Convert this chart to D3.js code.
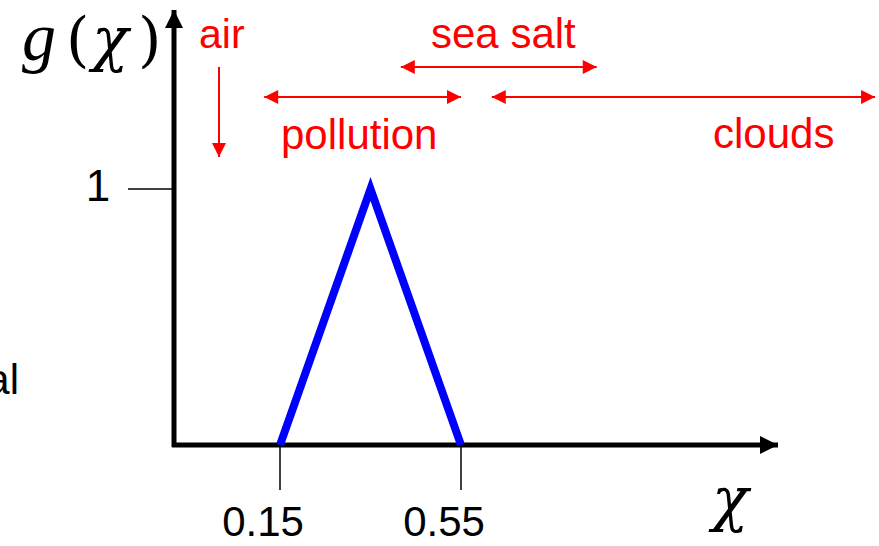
<!DOCTYPE html>
<html>
<head>
  <script src="https://d3js.org/d3.v7.min.js"></script>
  <style>
    body { margin: 0; background: #fff; }
    svg { display: block; }
  </style>
</head>
<body>
  <svg width="879" height="546"></svg>
<script>
  // membership function: triangle on chi
  var chiPoints = [0.15, 0.35, 0.55];
  var gValues = [0, 1, 0];
  var xTicks = [0.15, 0.55];
  var xTickLabels = ["0.15", "0.55"];
  var yTicks = [1];
  var yTickLabels = ["1"];

  // aerosol type ranges (in chi units) shown as red arrows
  var rangeNames = ["sea salt", "pollution", "clouds"];
  var rangeFrom = [0.417, 0.115, 0.618];
  var rangeTo = [0.85, 0.55, 1.465];

  var svg = d3.select("svg");
  var red = "#ff0000";
  var sans = "Liberation Sans, Arial, sans-serif";
  var serif = "DejaVu Serif, Liberation Serif, serif";

  var x = d3.scaleLinear().domain([0.15, 0.55]).range([280, 461]);
  var y = d3.scaleLinear().domain([0, 1]).range([445, 189]);

  var defs = svg.append("defs");
  function marker(id, color, w, h) {
    defs.append("marker").attr("id", id)
      .attr("viewBox", "0 0 10 10").attr("refX", 10).attr("refY", 5)
      .attr("markerUnits", "userSpaceOnUse")
      .attr("markerWidth", w).attr("markerHeight", h)
      .attr("orient", "auto-start-reverse")
      .append("path").attr("d", "M0,0L10,5L0,10Z").attr("fill", color);
  }
  marker("blk", "#000", 20, 18);
  marker("red", red, 16, 14);

  // axes
  svg.append("line").attr("x1", 174).attr("y1", 447).attr("x2", 174).attr("y2", 10)
    .attr("stroke", "#000").attr("stroke-width", 5).attr("marker-end", "url(#blk)");
  svg.append("line").attr("x1", 172).attr("y1", 445).attr("x2", 778).attr("y2", 445)
    .attr("stroke", "#000").attr("stroke-width", 5).attr("marker-end", "url(#blk)");

  // ticks
  svg.selectAll(".xt").data(xTicks).enter().append("line")
    .attr("x1", d => x(d)).attr("x2", d => x(d))
    .attr("y1", y(0)).attr("y2", y(0) + 45)
    .attr("stroke", "#000").attr("stroke-width", 1.5);
  svg.selectAll(".xl").data(xTicks).enter().append("text")
    .attr("x", d => x(d) - 17).attr("y", 536)
    .attr("text-anchor", "middle")
    .attr("font-family", sans).attr("font-size", 42)
    .text((d, i) => xTickLabels[i]);

  svg.selectAll(".yt").data(yTicks).enter().append("line")
    .attr("x1", 128).attr("x2", 174)
    .attr("y1", d => y(d)).attr("y2", d => y(d))
    .attr("stroke", "#000").attr("stroke-width", 1.5);
  svg.selectAll(".yl").data(yTicks).enter().append("text")
    .attr("x", 98).attr("y", d => y(d) + 12)
    .attr("text-anchor", "middle")
    .attr("font-family", sans).attr("font-size", 44)
    .text((d, i) => yTickLabels[i]);

  // triangle
  var line = d3.line().x(d => x(d[0])).y(d => y(d[1]));
  svg.append("path")
    .datum(chiPoints.map((c, i) => [c, gValues[i]]))
    .attr("d", line)
    .attr("fill", "none").attr("stroke", "#0000ff").attr("stroke-width", 8)
    .attr("stroke-linejoin", "miter");

  // axis titles, glyphs placed one by one to keep the wide spacing
  var yTitle = [["g", 22, true], ["(", 66, false], ["χ", 92, true], [")", 138, false]];
  yTitle.forEach(function (t) {
    svg.append("text").attr("x", t[1]).attr("y", 60)
      .attr("font-family", t[0] === "g" ? "Liberation Serif, serif" : serif)
      .attr("font-size", t[0] === "g" ? 68 : 60)
      .attr("font-style", t[2] ? "italic" : "normal").text(t[0]);
  });

  svg.append("text").attr("x", 712).attr("y", 520)
    .attr("font-family", serif).attr("font-size", 60)
    .attr("font-style", "italic").text("χ");

  // leftover label cut at the edge
  svg.append("text").attr("x", 19).attr("y", 394).attr("text-anchor", "end")
    .attr("font-family", sans).attr("font-size", 42)
    .text("al");

  // red annotations
  svg.append("text").attr("x", 199).attr("y", 48).attr("fill", red)
    .attr("font-family", sans).attr("font-size", 41).text("air");
  svg.append("line").attr("x1", 219).attr("y1", 67).attr("x2", 219).attr("y2", 157)
    .attr("stroke", red).attr("stroke-width", 2).attr("marker-end", "url(#red)");

  var arrowY = [67, 97, 97];
  var labelPos = [[431, 48], [281, 149], [713, 148]];
  rangeNames.forEach(function (name, i) {
    svg.append("line")
      .attr("x1", x(rangeFrom[i])).attr("x2", x(rangeTo[i]))
      .attr("y1", arrowY[i]).attr("y2", arrowY[i])
      .attr("stroke", red).attr("stroke-width", 2)
      .attr("marker-start", "url(#red)").attr("marker-end", "url(#red)");
    svg.append("text").attr("x", labelPos[i][0]).attr("y", labelPos[i][1])
      .attr("fill", red).attr("font-family", sans).attr("font-size", 42).text(name);
  });
</script>
</body>
</html>
